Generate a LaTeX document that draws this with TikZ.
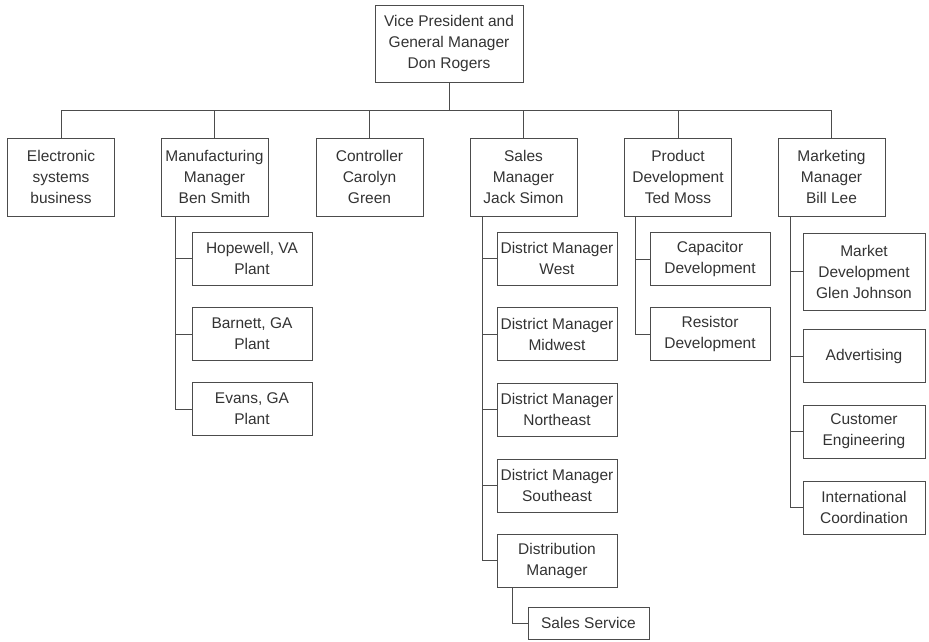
\documentclass[tikz,border=0pt]{standalone}
\usepackage{fontspec}
\setmainfont{Liberation Sans}
\usepackage{tikz}
\usetikzlibrary{calc}

\tikzset{
  box/.style={draw=black!70,line width=0.7pt,text=black!80,align=center,inner sep=0pt,
    font=\fontsize{15.5}{21}\selectfont},
  unit/.style={box,minimum width=107pt,minimum height=78pt},
  subunit/.style={box,minimum width=120pt,minimum height=53pt},
  link/.style={draw=black!70,line width=0.7pt}
}

\begin{document}
\begin{tikzpicture}[x=1pt,y={(0pt,-1pt)}]
\useasboundingbox (0,0) rectangle (929,641);
\node[box,minimum width=148pt,minimum height=77pt] (vp) at (449,43.5) {Vice President and\\General Manager\\Don Rogers};
\node[unit] (elec) at (61,177) {Electronic\\systems\\business};
\node[unit] (mfg) at (214.5,177) {Manufacturing\\Manager\\Ben Smith};
\node[unit] (ctrl) at (369.5,177) {Controller\\Carolyn\\Green};
\node[unit] (sales) at (523.5,177) {Sales\\Manager\\Jack Simon};
\node[unit] (prod) at (678,177) {Product\\Development\\Ted Moss};
\node[unit] (mkt) at (831.5,177) {Marketing\\Manager\\Bill Lee};
\coordinate (bus) at (449,110);
\draw[link] (vp.south) -- (bus);
\draw[link] (elec.north |- bus) -- (mkt.north |- bus);
\foreach \n in {elec,mfg,ctrl,sales,prod,mkt}
  \draw[link] (\n.north) -- (\n.north |- bus);
% manufacturing
\node[subunit] (hope) at (252,258.5) {Hopewell, VA\\Plant};
\node[subunit] (barn) at (252,334) {Barnett, GA\\Plant};
\node[subunit] (evans) at (252,409) {Evans, GA\\Plant};
\coordinate (mfgT) at ([xshift=15pt]mfg.south west);
\draw[link] (mfgT) |- (evans.west);
\foreach \n in {hope,barn}
  \draw[link] (mfgT |- \n.west) -- (\n.west);
% sales
\node[subunit] (west) at (557,258.5) {District Manager\\West};
\node[subunit] (midwest) at (557,334) {District Manager\\Midwest};
\node[subunit] (neast) at (557,409.5) {District Manager\\Northeast};
\node[subunit] (seast) at (557,485.5) {District Manager\\Southeast};
\node[subunit] (dist) at (557,560.5) {Distribution\\Manager};
\node[box,minimum width=121pt,minimum height=32pt] (service) at (588.5,623) {Sales Service};
\coordinate (salesT) at ([xshift=13pt]sales.south west);
\draw[link] (salesT) |- (dist.west);
\foreach \n in {west,midwest,neast,seast}
  \draw[link] (salesT |- \n.west) -- (\n.west);
\coordinate (distT) at ([xshift=16pt]dist.south west);
\draw[link] (distT) |- (service.west);
% product development
\node[subunit] (cap) at (710,259) {Capacitor\\Development};
\node[subunit] (res) at (710,334) {Resistor\\Development};
\coordinate (prodT) at ([xshift=11pt]prod.south west);
\draw[link] (prodT) |- (res.west);
\draw[link] (prodT |- cap.west) -- (cap.west);
% marketing
\node[box,minimum width=122pt,minimum height=77pt] (mktdev) at (864,271.5) {Market\\Development\\Glen Johnson};
\node[subunit,minimum width=122pt] (adv) at (864,356) {Advertising};
\node[subunit,minimum width=122pt] (cust) at (864,431.5) {Customer\\Engineering};
\node[subunit,minimum width=122pt] (intl) at (864,507.5) {International\\Coordination};
\coordinate (mktT) at ([xshift=13pt]mkt.south west);
\draw[link] (mktT) |- (intl.west);
\foreach \n in {mktdev,adv,cust}
  \draw[link] (mktT |- \n.west) -- (\n.west);
\end{tikzpicture}
\end{document}
